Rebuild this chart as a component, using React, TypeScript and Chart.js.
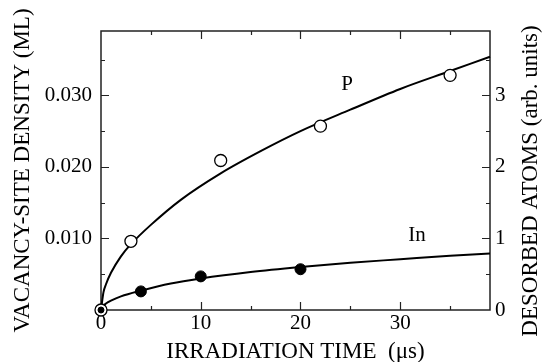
import React, { useEffect, useRef } from "react";
import { Chart, registerables } from "chart.js";

Chart.register(...registerables);

// Measured points
const pTimes = [0, 3, 12, 22, 35];
const pValues = [0, 0.0096, 0.0209, 0.0257, 0.0328];
const inTimes = [0, 4, 10, 20];
const inValues = [0, 0.0026, 0.0047, 0.0057];

// Fitted curves
const pCurveTimes = [0, 0.25, 0.5, 1, 2, 3, 5, 8, 12, 16, 20, 25, 30, 35, 39];
const pCurveValues = [0, 0.0025, 0.0036, 0.0052, 0.0075, 0.0092, 0.0119, 0.0154, 0.0191, 0.0222, 0.025, 0.028, 0.0309, 0.0334, 0.0354];
const inCurveTimes = [0, 0.25, 0.5, 1, 2, 4, 7, 10, 15, 20, 25, 30, 35, 39];
const inCurveValues = [0, 0.0006, 0.0009, 0.0013, 0.0019, 0.0027, 0.0037, 0.0044, 0.0053, 0.006, 0.0066, 0.0071, 0.0076, 0.0079];

// Ticks
const xTickLabels = [0, 10, 20, 30];
const yLeftTickLabels = [0.01, 0.02, 0.03];
const yRightTickLabels = [0, 1, 2, 3];
const xTickMarks = [5, 10, 15, 20, 25, 30, 35];
const xMajorMarks = [10, 20, 30];
const yTickMarks = [0.005, 0.01, 0.015, 0.02, 0.025, 0.03, 0.035];
const yMajorMarks = [0.01, 0.02, 0.03];

const X_MAX = 39;
const Y_MAX = 0.039;
const Y2_MAX = 3.9;

const SERIF = "Liberation Serif";

Chart.defaults.font.family = SERIF;
Chart.defaults.color = "#000";

const framePlugin = {
  id: "frame",
  beforeDatasetsDraw(chart: any) {
    const { ctx, chartArea, scales } = chart;
    const { left, right, top, bottom } = chartArea;
    const xs = scales.x;
    const ys = scales.y;
    ctx.save();
    ctx.strokeStyle = "#222";
    ctx.lineWidth = 1.5;
    ctx.strokeRect(left, top, right - left, bottom - top);
    ctx.lineWidth = 1.2;
    ctx.beginPath();
    for (const v of xTickMarks) {
      const px = Math.round(xs.getPixelForValue(v)) + 0.5;
      const len = xMajorMarks.includes(v) ? 8 : 4;
      ctx.moveTo(px, bottom);
      ctx.lineTo(px, bottom - len);
      ctx.moveTo(px, top);
      ctx.lineTo(px, top + len);
    }
    for (const v of yTickMarks) {
      const py = Math.round(ys.getPixelForValue(v)) + 0.5;
      const len = yMajorMarks.includes(v) ? 8 : 4;
      ctx.moveTo(left, py);
      ctx.lineTo(left + len, py);
      ctx.moveTo(right, py);
      ctx.lineTo(right - len, py);
    }
    ctx.stroke();
    ctx.restore();
  },
  afterDraw(chart: any) {
    const { ctx } = chart;
    ctx.save();
    ctx.fillStyle = "#000";
    ctx.font = `21px "${SERIF}"`;
    ctx.textAlign = "center";
    ctx.textBaseline = "middle";
    ctx.fillText("P", 347, 84);
    ctx.fillText("In", 417, 235);
    ctx.translate(531, 181);
    ctx.rotate(-Math.PI / 2);
    ctx.font = `23px "${SERIF}"`;
    ctx.fillText("DESORBED ATOMS (arb. units)", 0, 0);
    ctx.restore();
  },
};

function toXY(xs: number[], ys: number[]) {
  return xs.map((x, i) => ({ x, y: ys[i] }));
}

export default function App() {
  const ref = useRef<HTMLCanvasElement>(null);
  useEffect(() => {
    if (!ref.current) return;
    const mkTickFont = () => ({ family: SERIF, size: 21, style: "normal", weight: "normal" });
    const titleFont = { family: SERIF, size: 23, lineHeight: 0.9 };
    const chart = new Chart(ref.current, {
      type: "scatter",
      data: {
        datasets: [
          {
            label: "In",
            data: toXY(inTimes, inValues),
            showLine: false,
            pointRadius: [3, 5.5, 5.5, 5.5],
            pointBackgroundColor: "#000",
            pointBorderColor: "#000",
            pointBorderWidth: 1,
            clip: false,
          },
          {
            label: "P",
            data: toXY(pTimes, pValues),
            showLine: false,
            pointRadius: 6,
            pointBackgroundColor: "#fff",
            pointBorderColor: "#000",
            pointBorderWidth: 1.3,
            clip: false,
          },
          {
            label: "In fit",
            data: toXY(inCurveTimes, inCurveValues),
            showLine: true,
            pointRadius: 0,
            borderColor: "#000",
            borderWidth: 2,
            cubicInterpolationMode: "monotone",
            clip: false,
          },
          {
            label: "P fit",
            data: toXY(pCurveTimes, pCurveValues),
            showLine: true,
            pointRadius: 0,
            borderColor: "#000",
            borderWidth: 2,
            cubicInterpolationMode: "monotone",
            clip: false,
          },
        ],
      },
      options: {
        responsive: false,
        animation: false,
        layout: { padding: { top: 31, left: 0, right: 0, bottom: 0 } },
        plugins: {
          legend: { display: false },
          tooltip: { enabled: false },
        },
        scales: {
          x: {
            type: "linear",
            position: "bottom",
            min: 0,
            max: X_MAX,
            grid: { display: false, drawTicks: false },
            border: { display: false },
            afterBuildTicks: (s: any) => {
              s.ticks = xTickLabels.map((v) => ({ value: v }));
            },
            afterFit: (s: any) => {
              s.height = 52;
            },
            ticks: {
              font: mkTickFont(),
              color: "#000",
              padding: 1,
              maxRotation: 0,
              callback: (v: any) => String(v),
            },
            title: {
              display: true,
              text: "IRRADIATION TIME  (\u03bcs)",
              font: titleFont,
              color: "#000",
              padding: { top: 0, bottom: 0 },
            },
          },
          y: {
            type: "linear",
            position: "left",
            min: 0,
            max: Y_MAX,
            grid: { display: false, drawTicks: false },
            border: { display: false },
            afterBuildTicks: (s: any) => {
              s.ticks = yLeftTickLabels.map((v) => ({ value: v }));
            },
            afterFit: (s: any) => {
              s.width = 101;
            },
            ticks: {
              font: mkTickFont(),
              color: "#000",
              padding: 9,
              callback: (v: any) => Number(v).toFixed(3),
            },
            title: {
              display: true,
              text: "VACANCY-SITE DENSITY (ML)",
              font: titleFont,
              color: "#000",
              padding: { top: 13, bottom: 0 },
            },
          },
          y2: {
            type: "linear",
            position: "right",
            min: 0,
            max: Y2_MAX,
            grid: { display: false, drawTicks: false },
            border: { display: false },
            afterBuildTicks: (s: any) => {
              s.ticks = yRightTickLabels.map((v) => ({ value: v }));
            },
            afterFit: (s: any) => {
              s.width = 54;
            },
            ticks: {
              font: mkTickFont(),
              color: "#000",
              padding: 5,
              callback: (v: any) => String(v),
            },
          },
        },
      },
      plugins: [framePlugin],
    } as any);
    return () => chart.destroy();
  }, []);
  return (
    <div style={{ position: "absolute", left: 0, top: 0, width: 544, height: 362, background: "#fff" }}>
      <canvas ref={ref} width={544} height={362} style={{ width: 544, height: 362 }} />
    </div>
  );
}
